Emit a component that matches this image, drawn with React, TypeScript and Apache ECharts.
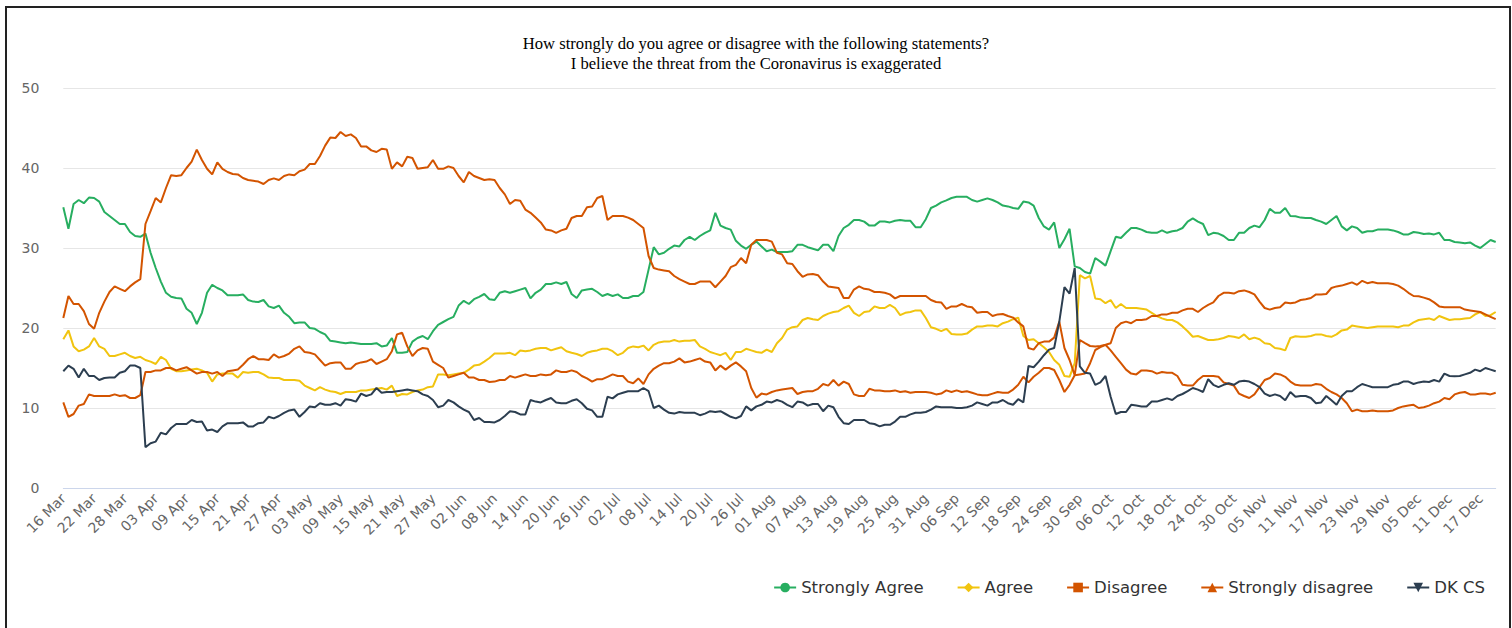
import React, { useEffect, useRef } from "react";
import * as echarts from "echarts";

const TITLE_LINES = [
  "How strongly do you agree or disagree with the following statements?",
  "I believe the threat from the Coronavirus is exaggerated",
];
const SERIES_NAMES = ["Strongly Agree", "Agree", "Disagree", "Strongly disagree", "DK CS"];
const MONTHS = ["Jan", "Feb", "Mar", "Apr", "May", "Jun", "Jul", "Aug", "Sep", "Oct", "Nov", "Dec"];
const START_DATE = [2020, 2, 16]; // 16 Mar 2020, daily
const DAY_COUNT = 280;
const Y_TICKS = [0, 10, 20, 30, 40, 50];

const STRONGLY_AGREE = [
  35.1, 32.4, 35.5, 36.0, 35.6, 36.3, 36.25, 35.8, 34.5, 34.0,
  33.5, 33.0, 33.0, 32.0, 31.5, 31.4, 31.8, 29.4, 27.5, 25.8,
  24.4, 23.9, 23.75, 23.7, 22.4, 21.9, 20.5, 21.9, 24.4, 25.4,
  25.0, 24.7, 24.1, 24.1, 24.1, 24.2, 23.5, 23.3, 23.25, 23.5,
  22.7, 22.5, 22.8, 21.9, 21.4, 20.6, 20.7, 20.7, 20.0, 19.9,
  19.5, 19.2, 18.4, 18.3, 18.2, 18.1, 18.2, 18.1, 18.0, 18.0,
  18.0, 18.1, 17.7, 17.8, 18.75, 16.9, 16.9, 17.0, 18.3, 18.75,
  19.0, 18.6, 19.6, 20.4, 20.75, 21.1, 21.4, 22.8, 23.4, 23.0,
  23.6, 23.9, 24.25, 23.6, 23.5, 24.4, 24.6, 24.4, 24.6, 24.8,
  25.0, 23.7, 24.4, 24.8, 25.5, 25.5, 25.7, 25.5, 25.75, 24.25,
  23.75, 24.7, 24.8, 24.9, 24.5, 24.0, 24.25, 24.0, 24.2, 23.75,
  23.75, 24.0, 24.0, 24.5, 27.3, 30.1, 29.2, 29.4, 29.9, 30.3,
  30.2, 31.0, 31.4, 31.0, 31.5, 31.9, 32.2, 34.4, 32.8, 32.5,
  32.3, 30.9, 30.3, 29.9, 30.4, 30.8, 30.2, 29.6, 29.8, 29.5,
  29.5, 29.5, 29.6, 30.4, 30.4, 30.1, 29.9, 29.7, 30.4, 30.4,
  29.6, 31.5, 32.5, 32.9, 33.5, 33.5, 33.3, 32.8, 32.8, 33.3,
  33.3, 33.2, 33.4, 33.5, 33.4, 33.4, 32.6, 32.6, 33.6, 35.0,
  35.3, 35.7, 35.96, 36.25, 36.4, 36.4, 36.4, 36.0, 35.8, 36.0,
  36.2, 36.0, 35.7, 35.3, 35.2, 35.0, 34.9, 35.8, 35.7, 35.3,
  33.75, 32.7, 32.3, 33.2, 30.0, 31.1, 32.4, 27.7, 27.5, 27.0,
  26.8, 28.75, 28.3, 27.8, 29.6, 31.4, 31.25, 31.9, 32.5, 32.5,
  32.3, 32.0, 31.9, 31.9, 32.2, 31.9, 32.1, 32.2, 32.5, 33.3,
  33.7, 33.3, 33.0, 31.6, 31.9, 31.8, 31.5, 31.0, 31.0, 31.9,
  31.9, 32.5, 32.8, 32.6, 33.5, 34.9, 34.4, 34.4, 35.0, 34.0,
  33.96, 33.8, 33.75, 33.75, 33.5, 33.3, 33.0, 33.5, 34.0, 32.7,
  32.2, 32.7, 32.5, 31.9, 32.1, 32.1, 32.3, 32.3, 32.3, 32.2,
  32.0, 31.7, 31.7, 32.0, 31.9, 31.75, 31.8, 31.7, 31.9, 31.0,
  31.0, 30.75, 30.7, 30.6, 30.7, 30.3, 30.0, 30.5, 31.0, 30.75,
];

const AGREE = [
  18.6, 19.7, 17.7, 17.1, 17.3, 17.7, 18.75, 17.7, 17.4, 16.5,
  16.5, 16.7, 16.9, 16.5, 16.25, 16.4, 16.0, 15.8, 15.5, 16.4,
  16.0, 14.9, 14.6, 14.6, 14.7, 14.8, 14.9, 14.7, 14.4, 13.3,
  14.2, 14.3, 14.3, 14.3, 13.8, 14.5, 14.4, 14.5, 14.5, 14.2,
  13.8, 13.75, 13.75, 13.5, 13.5, 13.5, 13.4, 12.8, 12.5, 12.2,
  12.6, 12.3, 12.1, 12.0, 11.75, 12.0, 12.0, 12.0, 12.2, 12.2,
  12.3, 12.4, 12.5, 12.3, 12.8, 11.5, 11.75, 11.7, 12.0, 12.2,
  12.3, 12.6, 12.7, 14.2, 14.2, 14.1, 14.2, 14.3, 14.4, 14.8,
  15.3, 15.4, 15.8, 16.25, 16.8, 16.8, 16.8, 16.9, 16.6, 17.2,
  17.1, 17.2, 17.4, 17.5, 17.5, 17.2, 17.4, 17.6, 17.1, 16.9,
  16.75, 16.5, 16.9, 17.1, 17.2, 17.4, 17.4, 17.1, 16.6, 16.9,
  17.5, 17.7, 17.6, 17.8, 17.2, 17.9, 18.2, 18.3, 18.3, 18.5,
  18.3, 18.4, 18.4, 18.5, 17.7, 17.4, 17.0, 16.8, 16.6, 16.9,
  16.0, 17.0, 17.0, 17.4, 17.2, 17.0, 16.9, 17.3, 17.0, 18.1,
  18.75, 19.8, 20.1, 20.2, 21.0, 21.25, 21.1, 21.0, 21.5, 21.8,
  22.0, 22.1, 22.5, 22.8, 21.9, 21.5, 22.0, 22.1, 22.7, 22.5,
  22.5, 22.9, 22.5, 21.6, 21.9, 22.0, 22.2, 22.2, 21.25, 20.1,
  19.9, 19.6, 19.9, 19.25, 19.2, 19.2, 19.3, 19.8, 20.2, 20.2,
  20.3, 20.3, 20.2, 20.6, 20.8, 21.1, 21.3, 19.0, 18.5, 18.6,
  18.1, 17.6, 17.0, 16.0, 15.4, 14.0, 13.9, 15.6, 26.6, 26.2,
  26.5, 23.7, 23.6, 23.1, 23.5, 22.5, 23.0, 22.5, 22.5, 22.5,
  22.4, 22.3, 21.9, 21.5, 21.2, 21.0, 21.0, 20.7, 20.2, 19.6,
  18.9, 19.0, 18.75, 18.5, 18.5, 18.6, 18.75, 19.0, 18.9, 18.75,
  19.2, 18.6, 18.8, 18.6, 18.1, 18.0, 17.5, 17.4, 17.2, 18.75,
  18.96, 18.9, 18.9, 19.0, 19.2, 19.2, 19.0, 18.9, 19.2, 19.7,
  19.8, 20.3, 20.2, 20.1, 20.0, 20.1, 20.2, 20.2, 20.2, 20.2,
  20.1, 20.3, 20.3, 20.7, 21.0, 21.1, 21.2, 21.0, 21.5, 21.25,
  21.0, 21.1, 21.1, 21.2, 21.25, 21.7, 22.0, 21.5, 21.6, 22.0,
];

const DISAGREE = [
  10.7, 8.9, 9.25, 10.3, 10.5, 11.7, 11.5, 11.5, 11.5, 11.5,
  11.7, 11.5, 11.6, 11.25, 11.25, 11.6, 14.5, 14.5, 14.7, 14.7,
  15.0, 15.0, 14.7, 14.9, 15.1, 14.7, 14.3, 14.5, 14.5, 14.3,
  14.5, 14.0, 14.6, 14.7, 14.8, 15.4, 16.1, 16.5, 16.1, 16.1,
  16.0, 16.7, 16.3, 16.5, 16.8, 17.4, 17.7, 17.0, 16.9, 16.7,
  16.0, 15.3, 15.6, 15.7, 15.7, 14.9, 14.9, 15.5, 15.7, 15.8,
  16.1, 15.5, 15.8, 16.1, 17.1, 19.2, 19.4, 17.7, 16.5, 17.2,
  17.5, 17.4, 15.8, 15.4, 15.0, 13.8, 14.0, 14.2, 14.4, 13.8,
  13.8, 13.5, 13.5, 13.25, 13.3, 13.5, 13.5, 14.0, 13.8, 14.0,
  14.2, 14.0, 14.0, 14.2, 14.1, 14.2, 14.7, 14.5, 14.5, 14.7,
  14.5, 14.0, 13.7, 13.3, 13.6, 13.6, 13.9, 14.2, 14.0, 14.0,
  13.3, 13.1, 13.7, 13.0, 14.2, 14.9, 15.3, 15.6, 15.6, 15.8,
  16.2, 15.7, 15.8, 16.0, 16.2, 15.8, 15.7, 14.7, 15.3, 14.8,
  15.3, 15.7, 15.2, 14.6, 12.5, 11.3, 11.8, 11.7, 12.0, 12.2,
  12.3, 12.4, 12.5, 11.75, 12.0, 12.1, 12.1, 12.4, 13.0, 12.8,
  13.5, 12.8, 13.3, 13.0, 11.7, 11.5, 11.5, 12.4, 12.2, 12.2,
  12.1, 12.1, 12.2, 12.0, 12.1, 11.9, 12.0, 12.0, 12.0, 11.9,
  11.7, 11.8, 12.2, 12.0, 12.2, 12.0, 12.1, 11.9, 11.7, 11.6,
  11.6, 11.8, 12.0, 11.9, 11.9, 12.3, 12.9, 13.9, 13.2, 13.9,
  14.4, 15.0, 15.0, 14.75, 13.5, 12.0, 12.9, 14.1, 14.2, 14.3,
  15.6, 17.25, 17.6, 17.9, 17.2, 16.4, 15.6, 14.8, 14.3, 14.2,
  14.7, 14.7, 14.6, 14.3, 14.5, 14.4, 14.4, 14.0, 12.9, 12.8,
  12.8, 13.5, 14.0, 14.0, 14.0, 13.9, 13.2, 13.0, 12.8, 11.8,
  11.5, 11.25, 11.7, 12.6, 13.5, 13.75, 14.3, 14.2, 13.9, 13.3,
  12.9, 12.8, 12.8, 12.8, 13.0, 12.9, 12.4, 12.0, 11.7, 11.25,
  10.6, 9.6, 9.8, 9.6, 9.6, 9.7, 9.6, 9.6, 9.6, 9.7,
  10.0, 10.2, 10.3, 10.4, 10.0, 10.1, 10.3, 10.6, 10.8, 11.25,
  11.1, 11.7, 11.9, 12.0, 11.7, 11.7, 11.8, 11.8, 11.7, 11.9,
];

const STRONGLY_DISAGREE = [
  21.25, 24.0, 23.0, 23.0, 22.1, 20.5, 19.9, 21.9, 23.3, 24.5,
  25.2, 24.9, 24.6, 25.2, 25.7, 26.1, 33.0, 34.6, 36.25, 35.7,
  37.5, 39.1, 39.0, 39.1, 40.0, 40.8, 42.3, 41.0, 39.9, 39.2,
  40.7, 39.9, 39.5, 39.25, 39.2, 38.75, 38.5, 38.4, 38.3, 38.0,
  38.5, 38.7, 38.5, 39.0, 39.2, 39.1, 39.6, 39.8, 40.5, 40.5,
  41.5, 42.8, 43.8, 43.75, 44.5, 44.0, 44.2, 43.75, 42.7, 42.7,
  42.2, 42.0, 42.4, 42.3, 39.9, 40.7, 40.2, 41.4, 41.25, 39.9,
  40.0, 40.1, 41.0, 39.9, 39.9, 40.2, 40.0, 39.0, 38.2, 39.5,
  39.0, 38.75, 38.5, 38.6, 38.5, 37.5, 36.7, 35.5, 36.0, 35.9,
  34.8, 34.4, 33.8, 33.2, 32.3, 32.2, 31.9, 32.2, 32.4, 33.75,
  34.0, 34.0, 35.1, 35.2, 36.25, 36.5, 33.5, 34.0, 34.0, 34.0,
  33.8, 33.5, 33.0, 32.5, 29.0, 27.5, 27.3, 27.2, 27.1, 26.5,
  26.1, 25.8, 25.5, 25.5, 25.8, 25.8, 25.8, 25.1, 25.8, 26.5,
  27.6, 27.9, 28.75, 28.1, 30.4, 31.0, 31.0, 31.0, 30.8, 29.4,
  29.2, 28.1, 28.0, 27.1, 26.4, 26.7, 26.75, 26.6, 25.8, 25.2,
  25.1, 25.0, 23.75, 23.75, 24.8, 25.2, 24.9, 24.8, 24.5, 24.5,
  24.4, 24.2, 23.7, 24.0, 24.0, 24.0, 24.0, 24.0, 24.0, 23.5,
  23.25, 23.2, 22.4, 22.7, 22.7, 23.0, 22.7, 22.6, 21.9, 22.0,
  22.0, 21.5, 21.7, 21.75, 21.5, 21.3, 20.7, 20.2, 17.5, 17.3,
  18.1, 18.3, 18.3, 18.8, 20.8, 17.5, 16.0, 14.1, 18.5, 18.1,
  17.75, 17.7, 17.75, 17.9, 18.1, 20.0, 20.6, 20.8, 20.6, 21.0,
  21.0, 21.1, 21.5, 21.5, 21.7, 21.7, 21.9, 21.9, 22.2, 22.4,
  22.4, 22.0, 22.5, 22.9, 23.2, 24.0, 24.4, 24.4, 24.3, 24.6,
  24.7, 24.5, 24.2, 23.3, 22.5, 22.3, 22.5, 22.6, 23.2, 23.1,
  23.2, 23.5, 23.6, 23.75, 24.2, 24.2, 24.25, 25.0, 25.2, 25.3,
  25.5, 25.7, 25.4, 25.9, 25.6, 25.75, 25.6, 25.6, 25.6, 25.5,
  25.3, 24.9, 24.4, 24.0, 23.96, 23.8, 23.6, 23.2, 22.7, 22.6,
  22.6, 22.6, 22.6, 22.3, 22.2, 22.1, 22.0, 21.7, 21.4, 21.1,
];

const DK_CS = [
  14.6, 15.3, 14.9, 13.8, 14.9, 14.0, 14.0, 13.5, 13.75, 13.8,
  13.8, 14.4, 14.6, 15.3, 15.3, 15.0, 5.1, 5.6, 5.8, 6.9,
  6.7, 7.5, 8.0, 8.0, 8.0, 8.5, 8.25, 8.3, 7.2, 7.3,
  7.0, 7.7, 8.1, 8.1, 8.1, 8.2, 7.7, 7.7, 8.1, 8.2,
  8.9, 8.7, 9.0, 9.4, 9.7, 9.8, 8.9, 9.5, 10.2, 10.1,
  10.6, 10.4, 10.4, 10.6, 10.3, 11.1, 11.0, 10.8, 11.8, 11.5,
  11.7, 12.5, 11.9, 12.0, 12.0, 12.1, 12.2, 12.3, 12.2, 12.1,
  11.7, 11.5, 11.0, 10.1, 10.3, 11.0, 10.7, 10.2, 9.8, 9.5,
  8.5, 8.75, 8.25, 8.25, 8.2, 8.5, 9.0, 9.6, 9.5, 9.2,
  9.2, 11.0, 10.8, 10.7, 11.0, 11.25, 10.7, 10.6, 10.6, 10.9,
  11.1, 10.6, 9.9, 9.7, 8.9, 8.9, 11.4, 11.2, 11.7, 11.9,
  12.1, 12.1, 12.1, 12.5, 12.1, 10.0, 10.3, 9.8, 9.4, 9.3,
  9.5, 9.4, 9.4, 9.4, 9.1, 9.3, 9.6, 9.5, 9.6, 9.25,
  8.9, 8.7, 9.0, 10.2, 9.7, 10.2, 10.4, 10.8, 10.7, 11.0,
  10.8, 10.4, 10.1, 10.8, 10.7, 10.3, 10.5, 10.5, 9.6, 10.3,
  10.1, 8.9, 8.1, 8.0, 8.5, 8.5, 8.5, 8.1, 8.0, 7.7,
  7.9, 7.9, 8.3, 8.9, 8.9, 9.2, 9.4, 9.4, 9.5, 9.8,
  10.2, 10.1, 10.1, 10.1, 10.0, 10.0, 10.1, 10.3, 10.7, 10.5,
  10.3, 10.7, 10.7, 11.0, 10.6, 10.4, 11.1, 10.7, 15.25, 15.1,
  15.8, 16.6, 17.3, 17.5, 20.8, 25.1, 24.3, 27.5, 15.2, 14.4,
  14.3, 12.9, 13.2, 14.0, 11.4, 9.25, 9.5, 9.5, 10.4, 10.3,
  10.2, 10.2, 10.8, 10.8, 11.0, 11.2, 11.0, 11.5, 11.75, 12.1,
  12.5, 12.3, 12.0, 13.6, 12.9, 12.6, 12.9, 13.1, 12.9, 13.3,
  13.4, 13.3, 13.0, 12.6, 11.8, 11.5, 11.7, 11.5, 10.96, 12.0,
  11.4, 11.5, 11.5, 11.25, 10.6, 10.7, 11.5, 10.96, 10.4, 11.5,
  12.1, 12.1, 12.6, 13.0, 12.8, 12.6, 12.6, 12.6, 12.6, 12.9,
  13.0, 13.3, 13.3, 13.0, 13.2, 13.3, 13.25, 13.5, 13.3, 14.3,
  14.0, 13.96, 14.0, 14.2, 14.4, 14.8, 14.6, 15.0, 14.8, 14.6,
];

const COLORS = ["#27ae60", "#f1c40f", "#d35400", "#d35400", "#2c3e50"];
const SYMBOLS = ["circle", "diamond", "rect", "triangle", "triangle"];
const SYMBOL_ROTATE = [0, 0, 0, 0, 180];

function buildDates(): string[] {
  const out: string[] = [];
  const base = Date.UTC(START_DATE[0], START_DATE[1], START_DATE[2]);
  for (let i = 0; i < DAY_COUNT; i++) {
    const d = new Date(base + i * 86400000);
    const dd = String(d.getUTCDate()).padStart(2, "0");
    out.push(`${dd} ${MONTHS[d.getUTCMonth()]}`);
  }
  return out;
}

const FONT = "'DejaVu Sans', sans-serif";

export default function App() {
  const ref = useRef<HTMLDivElement>(null);

  useEffect(() => {
    if (!ref.current) return;
    const chart = echarts.init(ref.current, null, { renderer: "svg" });
    const dates = buildDates();
    const allData = [STRONGLY_AGREE, AGREE, DISAGREE, STRONGLY_DISAGREE, DK_CS];
    chart.setOption({
      animation: false,
      backgroundColor: "#ffffff",
      title: {
        text: TITLE_LINES.join("\n"),
        left: "center",
        top: 28,
        textStyle: {
          fontFamily: "'Liberation Serif', serif",
          fontSize: 16.6,
          lineHeight: 20,
          fontWeight: "normal",
          color: "#000000",
        },
      },
      grid: { left: 63.3, right: 16.3, top: 88, bottom: 140, containLabel: false },
      legend: {
        right: 22,
        top: 574,
        itemWidth: 22,
        itemHeight: 12,
        itemGap: 33,
        textStyle: { fontFamily: FONT, fontSize: 16.5, color: "#333333" },
        data: SERIES_NAMES,
      },
      xAxis: {
        type: "category",
        data: dates,
        boundaryGap: false,
        axisLine: { lineStyle: { color: "#ccd6eb", width: 1 } },
        axisTick: { show: false },
        axisLabel: {
          interval: 5,
          rotate: 45,
          margin: 8,
          color: "#666666",
          fontFamily: FONT,
          fontSize: 14,
        },
        splitLine: { show: false },
      },
      yAxis: {
        type: "value",
        min: Y_TICKS[0],
        max: Y_TICKS[Y_TICKS.length - 1],
        interval: 10,
        axisLine: { show: false },
        axisTick: { show: false },
        axisLabel: { color: "#666666", fontFamily: FONT, fontSize: 14, margin: 24 },
        splitLine: { lineStyle: { color: "#e6e6e6", width: 1 } },
      },
      series: SERIES_NAMES.map((name, i) => ({
        name,
        type: "line",
        data: allData[i],
        showSymbol: false,
        symbol: SYMBOLS[i],
        symbolRotate: SYMBOL_ROTATE[i],
        symbolSize: 9,
        lineStyle: { color: COLORS[i], width: 2 },
        itemStyle: { color: COLORS[i] },
        emphasis: { disabled: true },
      })),
    });
    return () => chart.dispose();
  }, []);

  return (
    <div style={{ position: "fixed", left: 0, top: 0, width: 1512, height: 628, background: "#fff" }}>
      <div ref={ref} style={{ position: "absolute", left: 0, top: 0, width: 1512, height: 628 }} />
      <div
        style={{
          position: "absolute",
          left: 5,
          top: 6,
          width: 1506,
          height: 700,
          border: "2px solid #222",
          boxSizing: "border-box",
          pointerEvents: "none",
        }}
      />
    </div>
  );
}
